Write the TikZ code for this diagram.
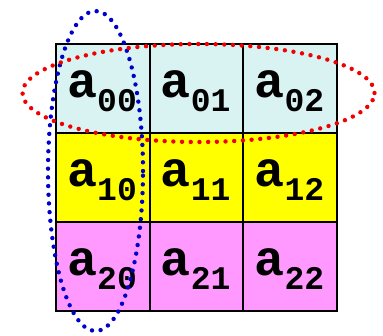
\documentclass[tikz,border=0pt]{standalone}
\usepackage{fontspec}
\setmonofont{Liberation Mono}
\usetikzlibrary{shapes.geometric}
\definecolor{cellcyan}{RGB}{217,242,242}
\definecolor{cellyellow}{RGB}{255,255,0}
\definecolor{cellpink}{RGB}{255,153,255}
\definecolor{dotred}{RGB}{240,0,0}
\definecolor{dotblue}{RGB}{0,0,204}
\newcommand\subidx[1]{\raisebox{-14pt}{\fontsize{33}{33}\selectfont #1}}
\tikzset{
  cell/.style={draw=black, line width=2pt, rectangle, inner sep=0pt,
    minimum width=93.67pt, minimum height=89pt},
  lab/.style={inner sep=0pt, anchor=base west,
    font=\ttfamily\bfseries\fontsize{50}{50}\selectfont},
  dotring/.style={ellipse, inner sep=0pt, line width=4.4pt, line cap=round,
    dash pattern=on 0pt off 8.7pt}
}
\begin{document}
\begin{tikzpicture}[x=1pt,y=-1pt]
\useasboundingbox (0,0) rectangle (383,335);
% cells
\foreach \r/\col in {0/cellcyan,1/cellyellow,2/cellpink}{
  \foreach \c in {0,1,2}{
    \node[cell, fill=\col] (c\r\c) at ({56+93.67*\c+46.835},{44+89*\r+44.5}) {};
  }
}
% labels
\foreach \r in {0,1,2}{
  \foreach \c in {0,1,2}{
    \node[lab] (t\r\c) at ([xshift=12pt,yshift=-54pt]c\r\c.north west) {a\subidx{\r\c}};
  }
}
% rings
\node[dotring, draw=dotblue, minimum width=95pt, minimum height=320pt] (colring) at (95.5,171) {};
\node[dotring, draw=dotred, minimum width=352pt, minimum height=98pt] (rowring) at (198.5,93) {};
\end{tikzpicture}
\end{document}
